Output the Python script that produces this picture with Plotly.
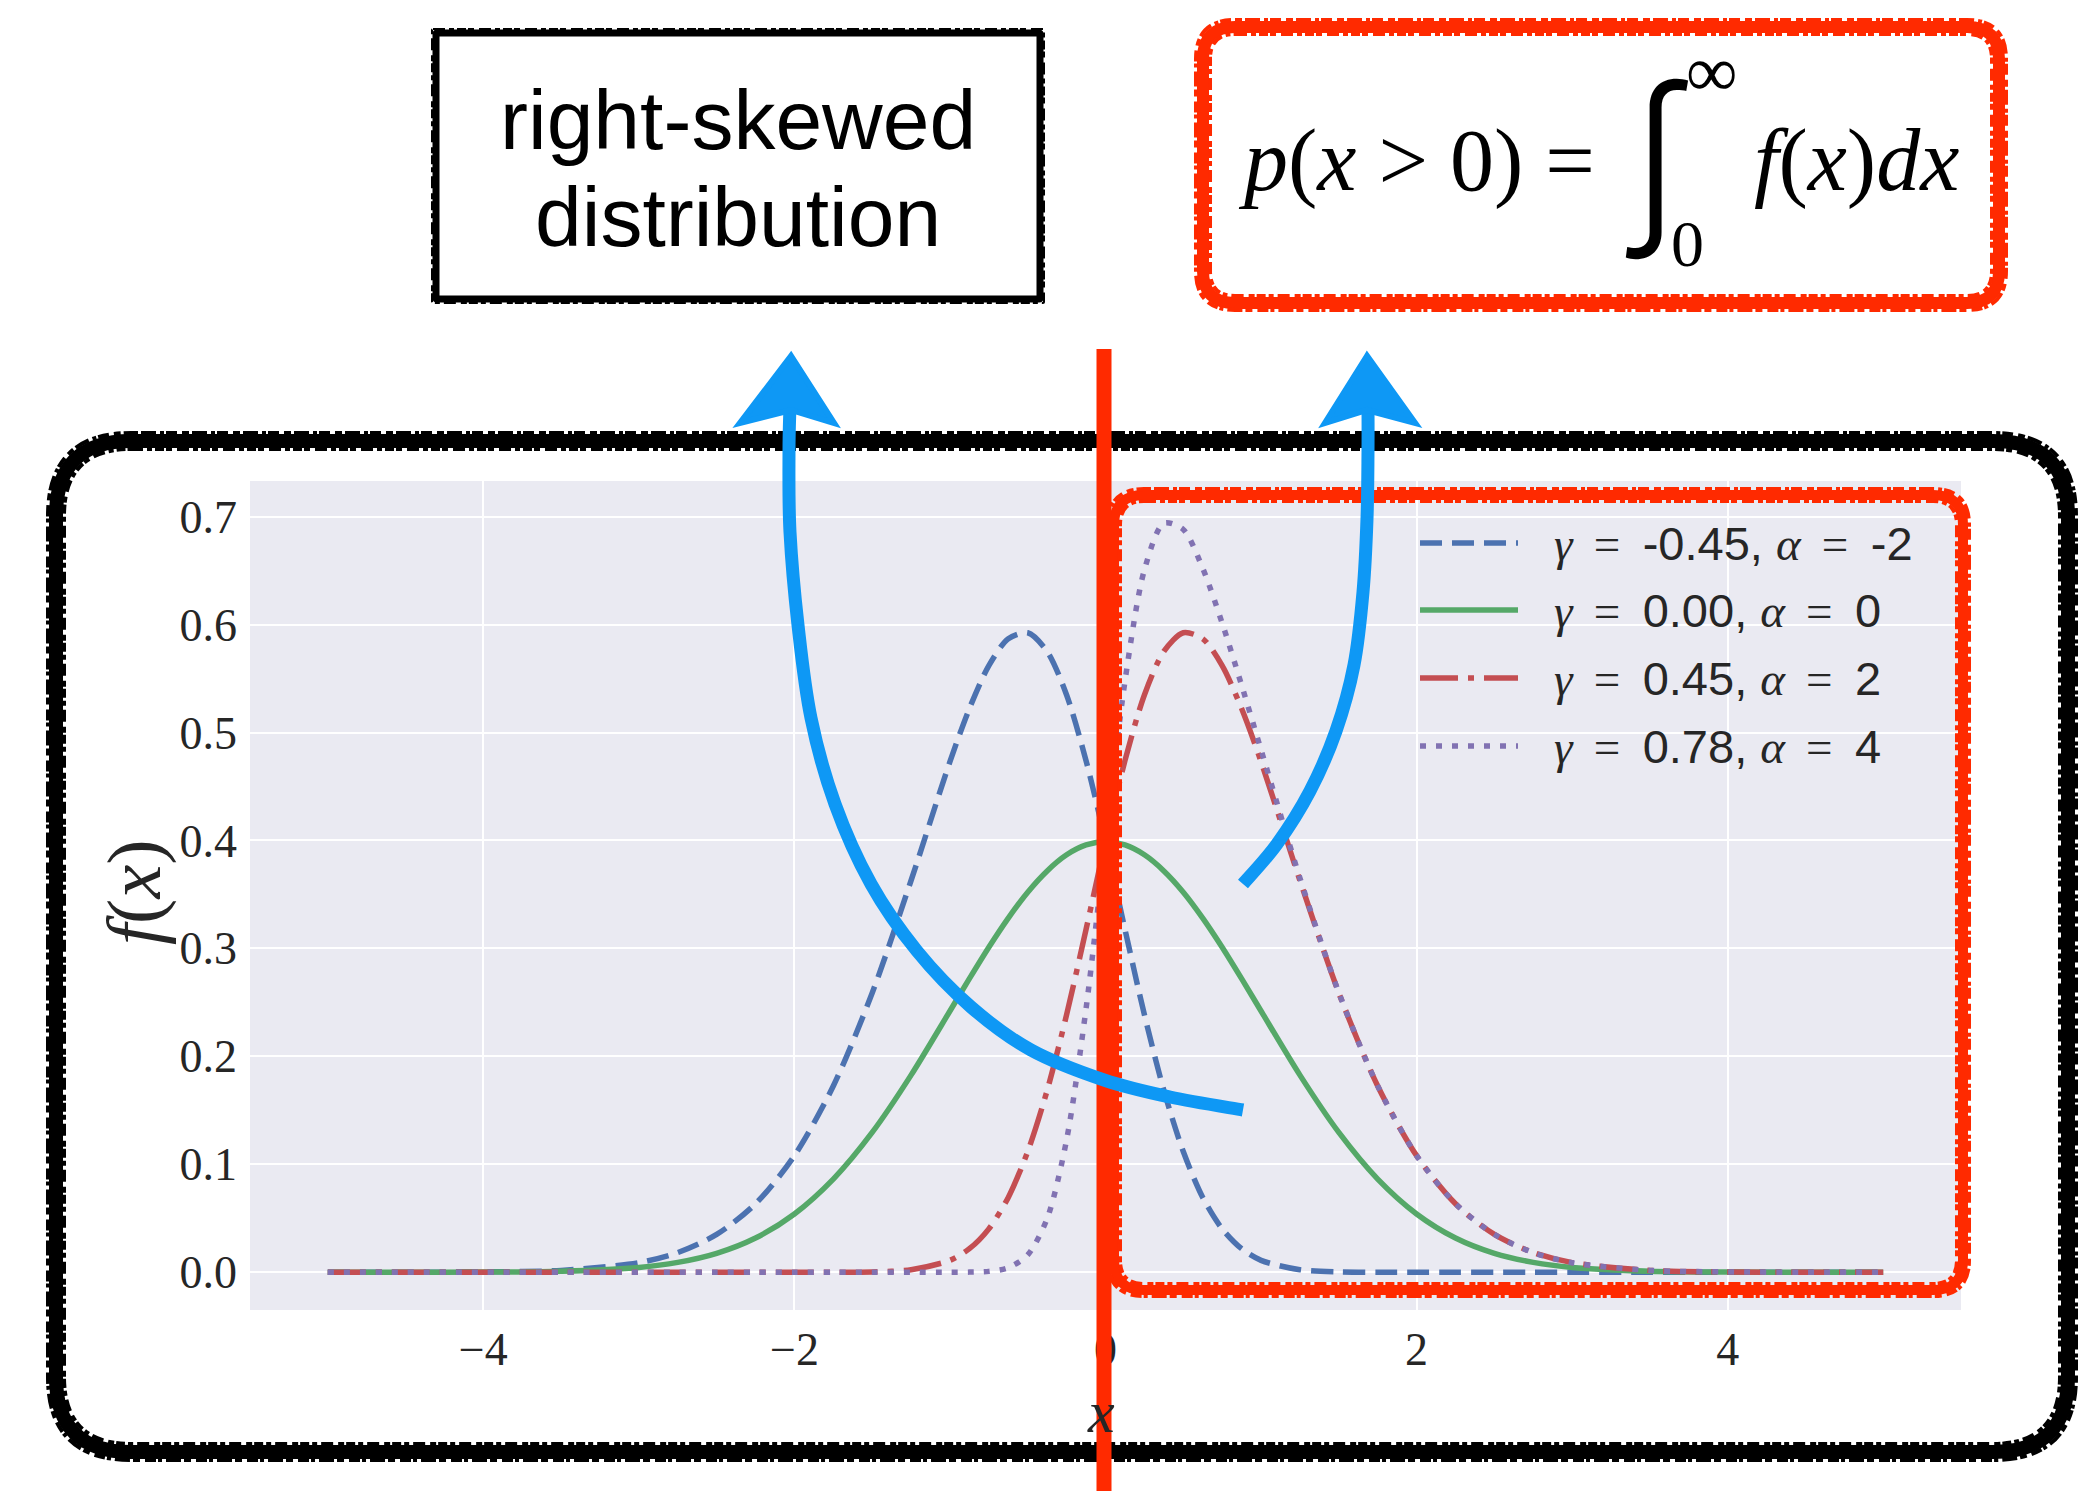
import plotly.graph_objects as go

# ---------------- data ----------------
x_vals = [-5, -4.5, -4, -3.5, -3, -2.75, -2.5, -2.25, -2, -1.75, -1.5, -1.25, -1,
          -0.875, -0.75, -0.625, -0.5, -0.375, -0.25, -0.125, 0, 0.125, 0.25, 0.375,
          0.5, 0.625, 0.75, 0.875, 1, 1.25, 1.5, 1.75, 2, 2.25, 2.5, 2.75, 3, 3.5, 4, 4.5, 5]

f_alpha_m2 = [0, 0, 0.0003, 0.0017, 0.0089, 0.0182, 0.0350, 0.0634, 0.1080, 0.1725, 0.2587,
              0.3629, 0.4730, 0.5222, 0.5620, 0.5869, 0.5924, 0.5751, 0.5348, 0.4739, 0.3989,
              0.3177, 0.2386, 0.1685, 0.1118, 0.0693, 0.0402, 0.0218, 0.0110, 0.0023, 0.0003,
              0.0000, 0, 0, 0, 0, 0, 0, 0, 0, 0]
f_alpha_0 = [0, 0, 0.0001, 0.0009, 0.0044, 0.0091, 0.0175, 0.0317, 0.0540, 0.0863, 0.1295,
             0.1826, 0.2420, 0.2720, 0.3011, 0.3281, 0.3521, 0.3718, 0.3867, 0.3958, 0.3989,
             0.3958, 0.3867, 0.3718, 0.3521, 0.3281, 0.3011, 0.2720, 0.2420, 0.1826, 0.1295,
             0.0863, 0.0540, 0.0317, 0.0175, 0.0091, 0.0044, 0.0009, 0.0001, 0, 0]
f_alpha_2 = [0, 0, 0, 0, 0, 0, 0, 0, 0, 0.0000, 0.0003, 0.0023, 0.0110, 0.0218, 0.0402,
             0.0693, 0.1118, 0.1685, 0.2386, 0.3177, 0.3989, 0.4739, 0.5348, 0.5751, 0.5924,
             0.5869, 0.5620, 0.5222, 0.4730, 0.3629, 0.2587, 0.1725, 0.1080, 0.0634, 0.0350,
             0.0182, 0.0089, 0.0017, 0.0003, 0, 0]
f_alpha_4 = [0, 0, 0, 0, 0, 0, 0, 0, 0, 0, 0, 0, 0, 0.0001, 0.0008, 0.0041, 0.0161, 0.0497,
             0.1227, 0.2442, 0.3989, 0.5474, 0.6507, 0.6939, 0.6881, 0.6521, 0.6014, 0.5439,
             0.4840, 0.3652, 0.2590, 0.1726, 0.1080, 0.0634, 0.0350, 0.0182, 0.0088, 0.0017,
             0.0003, 0, 0]

series_labels = ["γ = -0.45, α = -2", "γ = 0.00, α = 0", "γ = 0.45, α = 2", "γ = 0.78, α = 4"]
gamma_text = ["-0.45", "0.00", "0.45", "0.78"]
alpha_text = ["-2", "0", "2", "4"]
x_ticks = [-4, -2, 0, 2, 4]
x_ticktext = ["−4", "−2", "0", "2", "4"]
y_ticks = [0.0, 0.1, 0.2, 0.3, 0.4, 0.5, 0.6, 0.7]
y_ticktext = ["0.0", "0.1", "0.2", "0.3", "0.4", "0.5", "0.6", "0.7"]

# ---------------- styles ----------------
colors = ["#4C72B0", "#55A868", "#C44E52", "#8172B2"]
dashes = ["22px,10px", "solid", "38px,10px,6px,10px", "6px,10px"]
LW = 5.5
RED = "#FF2A00"
BLUE = "#0E98F5"

W, H = 2085, 1491
L, R, T, B = 250, 1961, 481, 1310


def px(x, y):
    return (x - L) / (R - L), (B - y) / (B - T)


def pt(x, y):
    a, b = px(x, y)
    return f"{a:.5f},{b:.5f}"


def rounded_rect(x0, y0, x1, y1, r):
    return (f"M{pt(x0 + r, y0)} L{pt(x1 - r, y0)} Q{pt(x1, y0)} {pt(x1, y0 + r)} "
            f"L{pt(x1, y1 - r)} Q{pt(x1, y1)} {pt(x1 - r, y1)} "
            f"L{pt(x0 + r, y1)} Q{pt(x0, y1)} {pt(x0, y1 - r)} "
            f"L{pt(x0, y0 + r)} Q{pt(x0, y0)} {pt(x0 + r, y0)} Z")


def smooth_path(points):
    s = f"M{pt(*points[0])}"
    n = len(points)
    for i in range(n - 1):
        p0 = points[i - 1] if i > 0 else points[i]
        p1 = points[i]
        p2 = points[i + 1]
        p3 = points[i + 2] if i + 2 < n else points[i + 1]
        c1 = (p1[0] + (p2[0] - p0[0]) / 6, p1[1] + (p2[1] - p0[1]) / 6)
        c2 = (p2[0] - (p3[0] - p1[0]) / 6, p2[1] - (p3[1] - p1[1]) / 6)
        s += f" C{pt(*c1)} {pt(*c2)} {pt(*p2)}"
    return s


ROUGH_A = "7px,3px,15px,4px,4px,2px,11px,5px"
ROUGH_B = "12px,4px,5px,3px,9px,2px,6px,5px"


def rough_box(shapes, x0, y0, x1, y1, r, color, width, off):
    """a brush-like frame: solid core plus two ragged offset strokes"""
    shapes.append(dict(type="path", xref="paper", yref="paper",
                       path=rounded_rect(x0, y0, x1, y1, r),
                       line=dict(color=color, width=width), layer="above"))
    shapes.append(dict(type="path", xref="paper", yref="paper",
                       path=rounded_rect(x0 - off, y0 - off, x1 + off, y1 + off, r + off),
                       line=dict(color=color, width=4, dash=ROUGH_A), layer="above"))
    shapes.append(dict(type="path", xref="paper", yref="paper",
                       path=rounded_rect(x0 + off, y0 + off, x1 - off, y1 - off, max(r - off, 1)),
                       line=dict(color=color, width=4, dash=ROUGH_B), layer="above"))


fig = go.Figure()
series = [f_alpha_m2, f_alpha_0, f_alpha_2, f_alpha_4]
for i, ys in enumerate(series):
    fig.add_trace(go.Scatter(
        x=x_vals, y=ys, mode="lines", name=series_labels[i],
        line=dict(color=colors[i], width=LW, dash=dashes[i], shape="spline", smoothing=0.8),
        showlegend=False, hoverinfo="skip"))

shapes = []
annotations = []


def ann(x, y, text, size, family="Liberation Sans", color="black", xa="center", ya="middle",
        angle=0, weight=None):
    a, b = px(x, y)
    font = dict(size=size, family=family, color=color)
    if weight is not None:
        font["weight"] = weight
    annotations.append(dict(x=a, y=b, xref="paper", yref="paper", text=text, showarrow=False,
                            xanchor=xa, yanchor=ya, textangle=angle, font=font))


SERIF = '<span style="font-family:Liberation Serif">'
SP = "\u2009"
# manual legend
leg_y = [543, 610, 678, 746]
for i in range(4):
    a0, b0 = px(1420, leg_y[i])
    a1, _ = px(1518, leg_y[i])
    shapes.append(dict(type="line", xref="paper", yref="paper", x0=a0, x1=a1, y0=b0, y1=b0,
                       line=dict(color=colors[i], width=LW, dash=dashes[i])))
    txt = (f"{SERIF}<i>γ</i>{SP} ={SP}</span> {gamma_text[i]}, "
           f"{SERIF}<i>α</i>{SP} ={SP}</span> {alpha_text[i]}")
    ann(1552, leg_y[i], txt, 47, "Liberation Sans", "#262626", xa="left")

# axis titles
ann(134, 893, "<i>f</i>(<i>x</i>)", 76, "Liberation Serif", "#262626", angle=-90)
ann(1101, 1412, "<i>x</i>", 60, "Liberation Serif", "#262626")

# big black rounded frame around the plot
rough_box(shapes, 56, 441, 2068, 1452, 75, "black", 14, 8)
# red rounded box inside plot
rough_box(shapes, 1114, 495, 1963, 1290, 30, RED, 10, 6)
# red vertical line
a0, b0 = px(1104, 349)
a1, b1 = px(1104, 1495)
shapes.append(dict(type="line", xref="paper", yref="paper", x0=a0, x1=a1, y0=b0, y1=b1,
                   line=dict(color=RED, width=15), layer="above"))
# top black box
shapes.append(dict(type="path", xref="paper", yref="paper", path=rounded_rect(436, 33, 1040, 299, 1),
                   line=dict(color="black", width=7), layer="above"))
shapes.append(dict(type="path", xref="paper", yref="paper", path=rounded_rect(432, 29, 1044, 303, 1),
                   line=dict(color="black", width=2, dash=ROUGH_B), layer="above"))
# top red box
rough_box(shapes, 1203, 27, 1999, 303, 32, RED, 12, 7)

# blue arrows
arrow1 = [(1243, 1110), (1170, 1097), (1104, 1080), (1031, 1050), (971, 1007), (917, 951),
          (871, 884), (835, 804), (811, 718), (798, 625), (790, 532), (789, 452), (790, 405)]
arrow2 = [(1243, 884), (1277, 844), (1310, 791), (1336, 731), (1354, 665), (1363, 592),
          (1367, 519), (1368, 452), (1368, 405)]
for pts in (arrow1, arrow2):
    shapes.append(dict(type="path", xref="paper", yref="paper", path=smooth_path(pts),
                       line=dict(color=BLUE, width=13), layer="above"))
for apex, w1, w2 in (((791, 356), (740, 423), (834, 423)), ((1367, 356), (1325, 423), (1415, 423))):
    shapes.append(dict(type="path", xref="paper", yref="paper",
                       path=f"M{pt(*apex)} L{pt(*w1)} L{pt(apex[0], 410)} L{pt(*w2)} Z",
                       fillcolor=BLUE, line=dict(color=BLUE, width=6), layer="above"))

# top-left box text
ann(738, 120, "right-skewed", 84, "Liberation Sans")
ann(738, 217, "distribution", 84, "Liberation Sans")

# formula
ann(1236, 160, "<i>p</i>(<i>x</i> > 0) =", 88, "Liberation Serif", xa="left")
ann(1658, 152, "∫", 180, "Inter", weight=300)
ann(1711, 72, "∞", 72, "Liberation Serif")
ann(1687, 244, "0", 66, "Liberation Serif")
ann(1752, 160, "<i>f</i>(<i>x</i>)<i>dx</i>", 88, "Liberation Serif", xa="left")

fig.update_layout(
    width=W, height=H,
    margin=dict(l=L, r=W - R, t=T, b=H - B, pad=0),
    paper_bgcolor="white", plot_bgcolor="#EAEAF2",
    xaxis=dict(range=[-5.5, 5.5], tickvals=x_ticks, ticktext=x_ticktext, showgrid=True,
               gridcolor="white", gridwidth=2, zeroline=False, showline=False, ticks="",
               ticklabelstandoff=8,
               tickfont=dict(family="Liberation Serif", size=46, color="#262626")),
    yaxis=dict(range=[-0.035, 0.733], tickvals=y_ticks, ticktext=y_ticktext, showgrid=True,
               gridcolor="white", gridwidth=2, zeroline=False, showline=False, ticks="",
               ticklabelstandoff=12,
               tickfont=dict(family="Liberation Serif", size=46, color="#262626")),
    shapes=shapes, annotations=annotations, showlegend=False,
)

fig.write_html("out.html")
